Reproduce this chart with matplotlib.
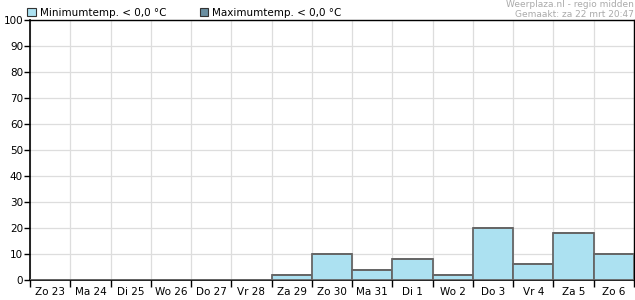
import numpy as np
import matplotlib
matplotlib.use("Agg")
import matplotlib.pyplot as plt
from matplotlib.patches import Patch

days = ["Zo 23", "Ma 24", "Di 25", "Wo 26", "Do 27", "Vr 28", "Za 29", "Zo 30",
        "Ma 31", "Di 1", "Wo 2", "Do 3", "Vr 4", "Za 5", "Zo 6"]
min_temp = [0, 0, 0, 0, 0, 0, 2, 10, 4, 8, 2, 20, 6, 18, 10]
max_temp = [0, 0, 0, 0, 0, 0, 0, 0, 0, 0, 0, 0, 0, 0, 0]
yticks = list(range(0, 101, 10))

plt.rcParams['font.family'] = ['DejaVu Sans']

fig = plt.figure(figsize=(6.35, 3.0), dpi=100)
ax = fig.add_axes([30 / 635, 20 / 300, 604 / 635, 260 / 300])

x = np.arange(len(days))
ax.bar(x, min_temp, width=1.0, color="#ace1f1", edgecolor="#666666",
       linewidth=1.3, align="edge", zorder=3)
ax.bar(x, max_temp, width=1.0, bottom=min_temp, color="#6a8ea0",
       edgecolor="#666666", linewidth=1.3, align="edge", zorder=3)

ax.set_xlim(0, len(days))
ax.set_ylim(0, 100)
ax.set_yticks(yticks)
ax.set_yticklabels([str(v) for v in yticks], fontsize=7.5)
ax.set_xticks(np.arange(len(days) + 1))
ax.set_xticklabels([])
ax.set_xticks(x + 0.5, minor=True)
ax.set_xticklabels(days, minor=True, fontsize=7.5)
ax.tick_params(axis="x", which="minor", length=0, pad=5)
ax.tick_params(axis="x", which="major", length=5, width=1, color="black")
ax.tick_params(axis="y", length=4, width=1, pad=1)

ax.grid(True, which="major", color="#dddddd", linewidth=0.9, zorder=0)
ax.set_axisbelow(True)
for s in ["left", "bottom"]:
    ax.spines[s].set_linewidth(1.2)
for s in ["top", "right"]:
    ax.spines[s].set_linewidth(1.0)

handles = [Patch(facecolor="#ace1f1", edgecolor="#333333", linewidth=0.8,
                 label="Minimumtemp. < 0,0 °C"),
           Patch(facecolor="#6a8ea0", edgecolor="#333333", linewidth=0.8,
                 label="Maximumtemp. < 0,0 °C")]
fig.legend(handles=handles, loc="upper left", bbox_to_anchor=(18 / 635, 1.005),
           ncol=2, frameon=False, fontsize=7.5, handlelength=0.8,
           handleheight=0.8, handletextpad=0.4, columnspacing=3.2)

fig.text(0.998, 1.0, "Weerplaza.nl - regio midden", ha="right", va="top",
         fontsize=6.5, color="#aaaaaa")
fig.text(0.998, 0.968, "Gemaakt: za 22 mrt 20:47", ha="right", va="top",
         fontsize=6.5, color="#aaaaaa")

fig.savefig("out.png", dpi=100)
